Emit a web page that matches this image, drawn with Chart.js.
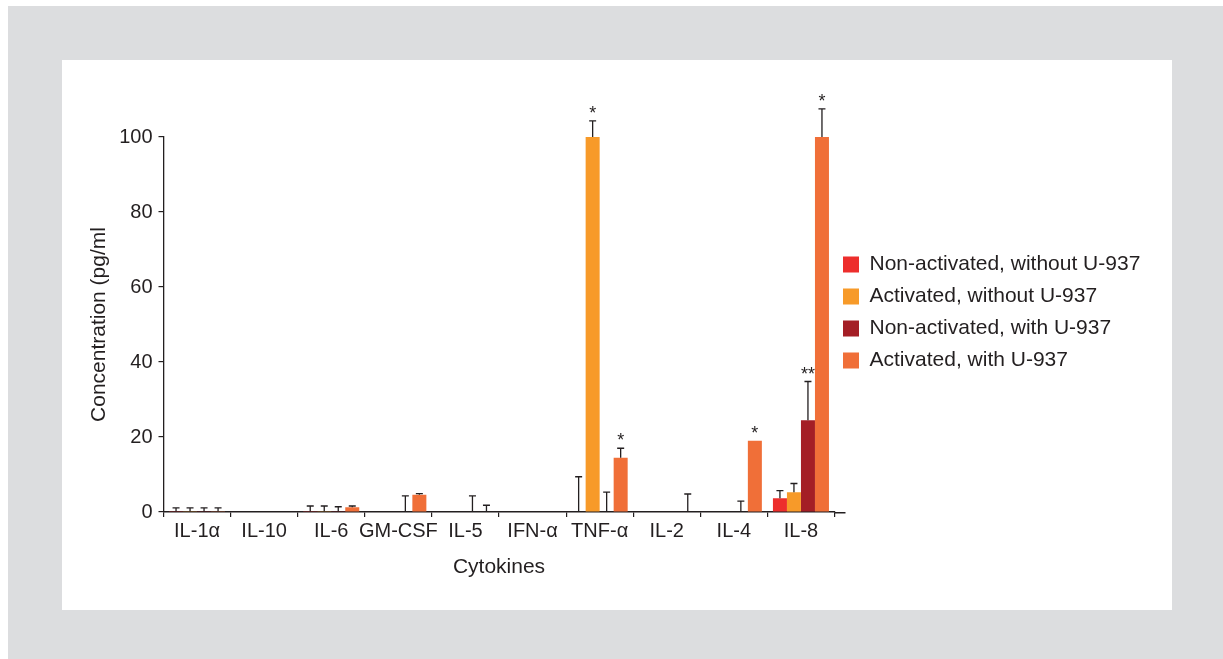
<!DOCTYPE html>
<html>
<head>
<meta charset="utf-8">
<script src="https://cdn.jsdelivr.net/npm/chart.js@4.4.1/dist/chart.umd.min.js"></script>
<style>
  body { margin: 0; background: #fff; width: 1223px; height: 659px; overflow: hidden; position: relative; }
  #frame { position: absolute; left: 8px; top: 6px; width: 1215px; height: 653px; background: #dcdddf; }
  #panel { position: absolute; left: 62px; top: 60px; width: 1110px; height: 550px; background: #fff; }
  #grafico { position: absolute; left: 0; top: 0; }
</style>
</head>
<body>
<div id="frame"></div>
<div id="panel"><canvas id="grafico" width="1110" height="550"></canvas></div>
<script>
// Categorias y series (pg/ml)
const categorias = ['IL-1α', 'IL-10', 'IL-6', 'GM-CSF', 'IL-5', 'IFN-α', 'TNF-α', 'IL-2', 'IL-4', 'IL-8']
const series = ['Non-activated, without U-937', 'Activated, without U-937', 'Non-activated, with U-937', 'Activated, with U-937']

const noActSinU = [0.2, 0, 0.2, 0, 0, 0, 0, 0, 0, 3.7]
const actSinU = [0.2, 0, 0.2, 0, 0, 0, 100, 0, 0, 5.3]
const noActConU = [0.2, 0, 0.2, 0, 0, 0, 0, 0, 0, 24.5]
const actConU = [0.2, 0, 1.3, 4.6, 0, 0, 14.5, 0, 19, 100]

// Barras de error (solo hacia arriba)
const errNoActSinU = [0.9, 0, 1.4, 0, 0, 0, 9.4, 0, 0, 2.0]
const errActSinU = [0.9, 0, 1.4, 0, 0, 0, 4.3, 0, 0, 2.3]
const errNoActConU = [0.9, 0, 1.2, 4.3, 4.3, 0, 5.3, 0, 2.9, 10.3]
const errActConU = [0.9, 0, 0.3, 0.3, 1.8, 0, 2.5, 4.8, 0, 7.5]

// Asteriscos de significancia
const sigNoActSinU = ['', '', '', '', '', '', '', '', '', '']
const sigActSinU = ['', '', '', '', '', '', '*', '', '', '']
const sigNoActConU = ['', '', '', '', '', '', '', '', '', '**']
const sigActConU = ['', '', '', '', '', '', '*', '', '*', '*']

const yTicks = [0, 20, 40, 60, 80, 100]

const colores = ['#ed2e2c', '#f79a29', '#a41e25', '#f06f38']
const oscuro = '#231f20'
const fuente = '"Liberation Sans", Arial, Helvetica, sans-serif'

const valores = [noActSinU, actSinU, noActConU, actConU]
const errores = [errNoActSinU, errActSinU, errNoActConU, errActConU]
const signos = [sigNoActSinU, sigActSinU, sigNoActConU, sigActConU]

// Dibuja barras de error y asteriscos encima de cada barra
const errorBars = {
  id: 'errorBars',
  afterDatasetsDraw(chart) {
    const { ctx } = chart
    const y = chart.scales.y
    ctx.save()
    ctx.strokeStyle = oscuro
    ctx.fillStyle = oscuro
    ctx.lineWidth = 1.3
    chart.data.datasets.forEach((ds, i) => {
      const meta = chart.getDatasetMeta(i)
      meta.data.forEach((bar, j) => {
        const v = ds.data[j]
        const e = ds.errores[j]
        let tope = y.getPixelForValue(v)
        if (e > 0) {
          const yTop = y.getPixelForValue(v + e)
          ctx.beginPath()
          ctx.moveTo(bar.x, tope)
          ctx.lineTo(bar.x, yTop)
          ctx.moveTo(bar.x - 3.5, yTop)
          ctx.lineTo(bar.x + 3.5, yTop)
          ctx.stroke()
          tope = yTop
        }
        if (ds.signos[j]) {
          ctx.font = '18px ' + fuente
          ctx.textAlign = 'center'
          ctx.textBaseline = 'alphabetic'
          ctx.fillText(ds.signos[j], bar.x, tope - 2)
        }
      })
    })
    // el eje x sigue un poco despues de la ultima categoria
    const a = chart.chartArea
    ctx.strokeStyle = oscuro
    ctx.lineWidth = 1.5
    ctx.beginPath()
    ctx.moveTo(a.right, a.bottom + 0.75)
    ctx.lineTo(a.right + 11, a.bottom + 0.75)
    ctx.stroke()
    ctx.restore()
  }
}

// Coloca la leyenda a la derecha del grafico
const leyendaLugar = {
  id: 'leyendaLugar',
  afterLayout(chart) {
    const lg = chart.legend
    const w = lg.width
    lg.left = 770
    lg.right = 770 + w
    lg.top = 0
    lg.bottom = 505
    lg.height = 505
  }
}

const chart = new Chart(document.getElementById('grafico'), {
  type: 'bar',
  data: {
    labels: categorias,
    datasets: series.map((s, i) => ({
      label: s,
      data: valores[i],
      errores: errores[i],
      signos: signos[i],
      backgroundColor: colores[i],
      borderWidth: 0,
      categoryPercentage: 0.835,
      barPercentage: 1.0
    }))
  },
  options: {
    responsive: false,
    devicePixelRatio: 1,
    animation: false,
    layout: { padding: { left: 0, top: 77, right: 337.5, bottom: 0 } },
    plugins: {
      tooltip: { enabled: false },
      legend: {
        position: 'chartArea',
        align: 'center',
        labels: {
          boxWidth: 16,
          boxHeight: 16,
          padding: 11,
          color: oscuro,
          font: { family: fuente, size: 21 }
        }
      }
    },
    scales: {
      x: {
        afterFit: s => { s.height = 98 },
        grid: { display: true, drawOnChartArea: false, drawTicks: true, tickLength: 5, color: oscuro, lineWidth: 1.2, offset: true },
        border: { display: true, color: oscuro, width: 1.5 },
        ticks: { color: oscuro, padding: 2, maxRotation: 0, autoSkip: false, font: { family: fuente, size: 20 } },
        title: { display: true, text: 'Cytokines', color: oscuro, font: { family: fuente, size: 21 }, padding: { top: 0, bottom: 30 } }
      },
      y: {
        min: 0,
        max: 100,
        afterFit: s => { s.width = 101.5 },
        afterBuildTicks: s => { s.ticks = yTicks.map(v => ({ value: v })) },
        grid: { display: true, drawOnChartArea: false, drawTicks: true, tickLength: 5, color: oscuro, lineWidth: 1.2 },
        border: { display: true, color: oscuro, width: 1.3 },
        ticks: { color: oscuro, padding: 6, font: { family: fuente, size: 20 } },
        title: { display: true, text: 'Concentration (pg/ml', color: oscuro, font: { family: fuente, size: 21 }, padding: { top: 25, bottom: 0 } }
      }
    }
  },
  plugins: [errorBars, leyendaLugar]
})
</script>
</body>
</html>
